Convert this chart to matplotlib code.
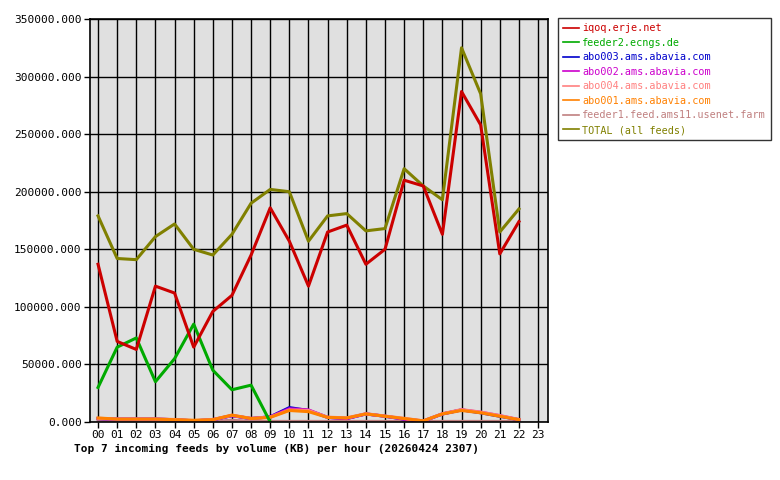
import matplotlib
matplotlib.use("Agg")
import matplotlib.pyplot as plt
from matplotlib.ticker import FuncFormatter

plt.rcParams['font.family'] = 'DejaVu Sans Mono'

hour_labels = [f"{h:02d}" for h in range(24)]

iqoq = [137000, 70000, 63000, 118000, 112000, 65000, 96000, 110000, 145000, 186000, 157000, 118000,
        165000, 171000, 137000, 150000, 210000, 205000, 163000, 287000, 258000, 146000, 174000]
feeder2 = [30000, 65000, 73000, 35000, 55000, 85000, 45000, 28000, 32000, 0]
abo003 = [3000, 2500, 2500, 2500, 2000, 1000, 2000, 5500, 3000, 4500, 12500, 10000, 4000, 3000,
          7000, 5000, 2500, 800, 7000, 10500, 8000, 5000, 2000]
abo002 = [3000, 2500, 2500, 2500, 2000, 1000, 2000, 5500, 3000, 4500, 11500, 10500, 4000, 3000,
          7000, 5000, 2500, 800, 7000, 10500, 8500, 5500, 2000]
abo004 = [3200, 2600, 2600, 2600, 2200, 1200, 2200, 5800, 3200, 4200, 10500, 10000, 4200, 3600,
          7200, 5200, 3200, 1000, 7200, 10800, 8600, 5600, 2200]
abo001 = [3500, 2500, 2500, 2500, 2000, 1500, 2000, 6000, 3000, 4000, 10000, 9000, 4000, 3500,
          7000, 5000, 3000, 1000, 7000, 10000, 8000, 5000, 2000]
feeder1 = [500, 500, 500, 500, 500, 500, 500, 1500, 500, 500, 500, 500, 500, 500,
           500, 500, 500, 500, 500, 500, 500, 500, 500]
total = [179000, 142000, 141000, 161000, 172000, 150000, 145000, 163000, 190000, 202000, 200000, 157000,
         179000, 181000, 166000, 168000, 220000, 205000, 193000, 325000, 285000, 165000, 185000]

series = [
    ("iqoq.erje.net", iqoq, "#cc0000"),
    ("feeder2.ecngs.de", feeder2, "#00aa00"),
    ("abo003.ams.abavia.com", abo003, "#0000cc"),
    ("abo002.ams.abavia.com", abo002, "#cc00cc"),
    ("abo004.ams.abavia.com", abo004, "#ff8080"),
    ("abo001.ams.abavia.com", abo001, "#ff8000"),
    ("feeder1.feed.ams11.usenet.farm", feeder1, "#c08080"),
    ("TOTAL (all feeds)", total, "#808000"),
]
draw_order = [7, 6, 2, 3, 4, 5, 1, 0]

fig = plt.figure(figsize=(7.8, 4.8), dpi=100)
ax = fig.add_axes([90 / 780, 58 / 480, 458 / 780, 403 / 480])
ax.set_facecolor("#e0e0e0")

handles = {}
for i in draw_order:
    name, vals, color = series[i]
    h, = ax.plot(range(len(vals)), vals, color=color, lw=2.2)
    handles[name] = h

ax.set_xlim(-0.42, 23.52)
ax.set_ylim(0, 350000)
ax.set_xticks(range(24))
ax.set_xticklabels(hour_labels)
ax.set_yticks(range(0, 350001, 50000))
ax.yaxis.set_major_formatter(FuncFormatter(lambda v, p: f"{v:.3f}"))
ax.tick_params(labelsize=8, length=4, direction="out", width=1, pad=2)
ax.grid(True, color="black", lw=1)
ax.set_axisbelow(True)
for s in ax.spines.values():
    s.set_linewidth(1.2)

ax.set_xlabel("Top 7 incoming feeds by volume (KB) per hour (20260424 2307)",
              fontsize=8, fontweight="bold", loc="left")
ax.xaxis.set_label_coords(-0.035, -0.055)

leg = fig.legend([handles[n] for n, _, _ in series], [n for n, _, _ in series],
                 loc="upper left", bbox_to_anchor=(558 / 780, 1 - 18 / 480),
                 borderaxespad=0, fontsize=7.3, frameon=True, fancybox=False,
                 handlelength=1.6, labelspacing=0.45, borderpad=0.5, handletextpad=0.3)
leg.get_frame().set_edgecolor("black")
leg.get_frame().set_linewidth(1)
for txt, (_, _, c) in zip(leg.get_texts(), series):
    txt.set_color(c)
for line in leg.get_lines():
    line.set_linewidth(1.2)

fig.savefig("out.png", dpi=100)
